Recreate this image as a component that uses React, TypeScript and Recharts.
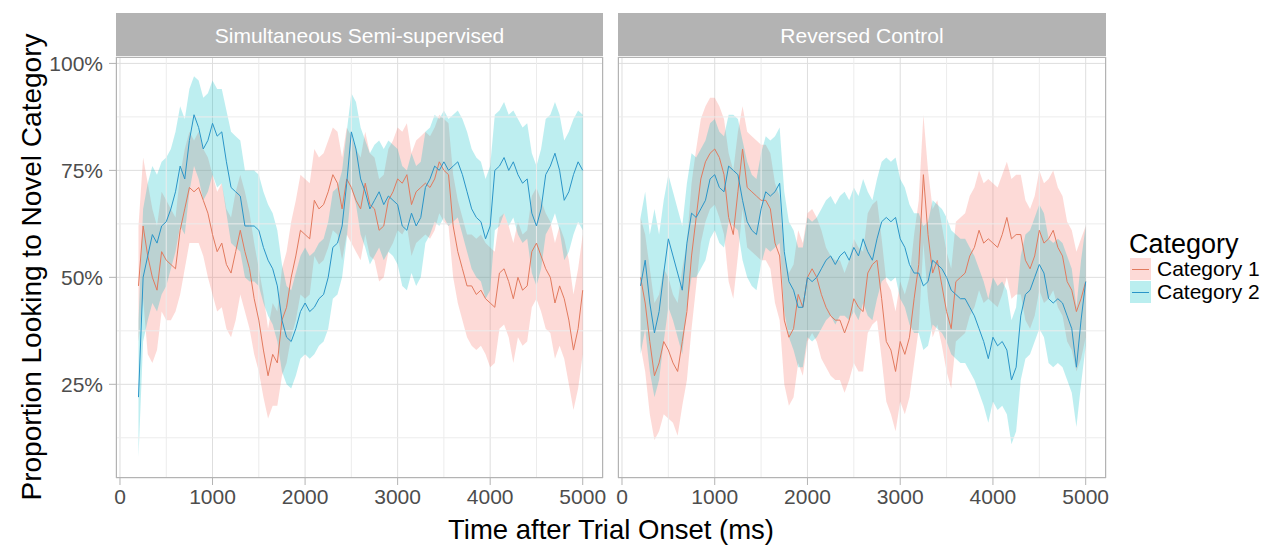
import React from "react";
import {
  ComposedChart,
  Area,
  Line,
  XAxis,
  YAxis,
  CartesianGrid,
  ReferenceLine,
} from "recharts";

const FONT = '"Liberation Sans", Arial, Helvetica, sans-serif';

// time after trial onset (ms), 50 ms bins
const times = [
  200, 250, 300, 350, 400, 450, 500, 550, 600, 650,
  700, 750, 800, 850, 900, 950, 1000, 1050, 1100, 1150,
  1200, 1250, 1300, 1350, 1400, 1450, 1500, 1550, 1600, 1650,
  1700, 1750, 1800, 1850, 1900, 1950, 2000, 2050, 2100, 2150,
  2200, 2250, 2300, 2350, 2400, 2450, 2500, 2550, 2600, 2650,
  2700, 2750, 2800, 2850, 2900, 2950, 3000, 3050, 3100, 3150,
  3200, 3250, 3300, 3350, 3400, 3450, 3500, 3550, 3600, 3650,
  3700, 3750, 3800, 3850, 3900, 3950, 4000, 4050, 4100, 4150,
  4200, 4250, 4300, 4350, 4400, 4450, 4500, 4550, 4600, 4650,
  4700, 4750, 4800, 4850, 4900, 4950, 5000,
];

// Simultaneous Semi-supervised (percent)
const semiCat1 = [
  48, 62, 55, 50, 47, 56, 54, 53, 52, 61,
  66, 71, 70, 71, 68, 65, 60, 56, 58, 53,
  51, 56, 61, 56, 52, 45, 40, 33, 27, 32,
  30, 40, 43, 50, 55, 61, 60, 59, 68, 66,
  67, 70, 74, 72, 66, 73, 71, 68, 66, 72,
  67, 66, 61, 62, 68, 70, 73, 72, 74, 67,
  70, 71, 72, 71, 73, 77, 75, 74, 62, 56,
  52, 48, 48, 46, 47, 45, 44, 43, 51, 52,
  49, 45, 50, 47, 48, 56, 58, 55, 52, 50,
  44, 48, 45, 40, 33, 38, 47,
];
const semiCat1Lo = [
  35, 45, 32, 30, 33, 42, 40, 40, 42, 46,
  52, 58, 58, 58, 55, 50, 46, 42, 43, 38,
  36, 40, 46, 42, 38, 32, 28, 22, 17, 20,
  20, 27, 30, 36, 40, 46, 45, 46, 55, 53,
  54, 57, 61, 60, 54, 60, 58, 56, 54, 60,
  55, 54, 49, 50, 56, 58, 61, 60, 62, 55,
  58, 59, 60, 59, 61, 65, 63, 62, 50, 44,
  40, 36, 34, 33, 34, 32, 29, 30, 38, 39,
  36, 30, 36, 34, 35, 43, 45, 42, 38, 37,
  31, 34, 31, 25, 19, 24, 32,
];
const semiCat1Hi = [
  62, 78, 72, 66, 62, 70, 68, 66, 64, 74,
  80, 84, 82, 84, 80, 78, 74, 70, 72, 66,
  64, 70, 74, 70, 65, 58, 52, 46, 38, 44,
  42, 52, 56, 63, 68, 74, 73, 72, 80, 78,
  79, 82, 85, 84, 78, 85, 83, 80, 78, 84,
  79, 78, 73, 74, 80, 82, 85, 84, 86, 79,
  82, 83, 84, 83, 85, 88, 87, 86, 74, 68,
  64, 60, 60, 59, 60, 58, 57, 56, 64, 65,
  62, 58, 63, 60, 61, 69, 71, 68, 65, 63,
  58, 62, 59, 54, 46, 52, 60,
];
const semiCat2 = [
  22, 50, 55, 60, 58, 62, 63, 66, 70, 76,
  73, 82, 88, 85, 80, 82, 86, 83, 84, 77,
  71, 70, 69, 62, 62, 62, 61, 57, 54, 52,
  48, 40, 36, 35, 38, 42, 44, 42, 43, 45,
  46, 50, 57, 58, 62, 72, 84, 80, 73, 70,
  66, 68, 70, 67, 69, 68, 67, 62, 61, 65,
  62, 64, 71, 73, 76, 75, 77, 75, 76, 77,
  74, 70, 66, 64, 63, 59, 62, 75, 76, 78,
  75, 77, 74, 72, 73, 65, 62, 66, 74, 76,
  79, 75, 68, 70, 74, 77, 75,
];
const semiCat2Lo = [
  8, 35, 40, 44, 42, 46, 48, 52, 56, 62,
  60, 70, 76, 73, 68, 70, 74, 71, 72, 65,
  58, 57, 56, 50, 49, 49, 48, 44, 41, 39,
  35, 28, 25, 24, 27, 31, 32, 31, 32, 34,
  35, 38, 45, 46, 50, 59, 71, 67, 60, 57,
  53, 55, 57, 54, 56, 55, 53, 48, 47, 51,
  48, 50, 58, 60, 63, 62, 64, 62, 63, 64,
  60, 56, 52, 50, 49, 45, 47, 61, 62, 65,
  62, 64, 60, 58, 59, 51, 48, 52, 60, 62,
  65, 61, 54, 56, 60, 63, 61,
];
const semiCat2Hi = [
  40, 66, 72, 76, 74, 77, 78, 80, 84, 90,
  87, 94, 97, 96, 92, 93, 96, 94, 94, 89,
  84, 83, 82, 75, 75, 75, 74, 70, 67, 65,
  61, 53, 48, 47, 51, 55, 57, 55, 56, 58,
  59, 63, 70, 71, 75, 84, 93, 91, 85, 82,
  79, 81, 82, 80, 82, 81, 80, 76, 75, 79,
  76, 77, 84, 85, 88, 87, 89, 87, 88, 89,
  87, 84, 80, 78, 77, 73, 76, 88, 89, 91,
  88, 89, 87, 85, 86, 79, 76, 80, 87, 88,
  91, 88, 82, 84, 87, 89, 88,
];

// Reversed Control (percent)
const revCat1 = [
  50, 44, 35, 27, 30, 35, 33, 30, 28, 35,
  42, 55, 64, 73, 77, 79, 80, 78, 74, 64,
  60, 70, 80, 71, 70, 69, 68, 68, 66, 58,
  55, 40, 36, 38, 46, 43, 50, 52, 50, 46,
  43, 41, 40, 40, 37, 40, 45, 43, 42, 51,
  53, 54, 45, 35, 33, 28, 35, 32, 36, 45,
  53, 74, 60, 51, 54, 48, 42, 38, 49, 50,
  51, 55, 57, 61, 58, 59, 58, 57, 60, 64,
  59, 60, 60, 54, 52, 55, 61, 58, 59, 61,
  57, 55, 49, 47, 42, 45, 49,
];
const revCat1Lo = [
  34, 28, 18, 12, 14, 18, 17, 16, 13, 20,
  26, 38, 48, 58, 63, 66, 67, 64, 60, 49,
  45, 55, 66, 57, 56, 55, 54, 54, 52, 44,
  40, 25, 20, 22, 30, 27, 35, 37, 35, 31,
  29, 27, 26, 26, 23, 26, 30, 28, 28, 37,
  39, 40, 31, 21, 18, 14, 21, 18, 22, 30,
  38, 58, 45, 36, 39, 34, 28, 24, 35, 36,
  37, 41, 43, 47, 44, 45, 44, 43, 46, 50,
  45, 46, 46, 40, 38, 41, 47, 44, 45, 47,
  43, 41, 35, 33, 28, 31, 36,
];
const revCat1Hi = [
  64, 60, 52, 44, 46, 52, 50, 46, 44, 52,
  58, 72, 80, 87, 90, 92, 92, 90, 87, 79,
  75, 84, 90, 84, 83, 82, 81, 81, 79, 72,
  69, 55, 51, 53, 61, 58, 65, 66, 64, 61,
  57, 55, 54, 54, 51, 54, 59, 57, 56, 65,
  67, 68, 59, 49, 47, 42, 49, 46, 50, 60,
  68, 88, 75, 66, 68, 62, 56, 52, 63, 64,
  65, 69, 71, 75, 72, 73, 72, 71, 74, 77,
  73, 74, 74, 68, 66, 69, 75, 72, 73, 75,
  71, 69, 63, 61, 56, 59, 62,
];
const revCat2 = [
  48, 54, 44, 37, 42, 51, 59, 55, 51, 47,
  58, 65, 64, 66, 68, 73, 74, 71, 70, 76,
  75, 74, 68, 63, 61, 60, 66, 70, 69, 70,
  72, 56, 49, 47, 43, 43, 50, 49, 50, 52,
  54, 55, 53, 55, 56, 54, 57, 55, 59, 56,
  54, 59, 63, 64, 63, 64, 59, 57, 53, 51,
  51, 48, 49, 54, 53, 52, 50, 47, 46, 45,
  45, 43, 41, 38, 35, 31, 36, 34, 35, 33,
  26, 29, 41, 46, 47, 50, 53, 51, 45, 44,
  45, 44, 41, 38, 29, 40, 49,
];
const revCat2Lo = [
  32, 38, 28, 22, 26, 35, 43, 40, 36, 32,
  43, 50, 50, 52, 54, 59, 61, 58, 57, 63,
  62, 61, 54, 50, 48, 47, 53, 57, 56, 57,
  58, 42, 36, 33, 29, 29, 36, 35, 36, 38,
  40, 41, 39, 41, 41, 40, 42, 40, 44, 41,
  40, 45, 49, 50, 49, 50, 45, 43, 39, 37,
  37, 33, 34, 39, 38, 37, 35, 32, 31, 30,
  30, 28, 26, 23, 20, 16, 21, 19, 20, 18,
  11, 14, 26, 31, 32, 35, 38, 36, 30, 29,
  30, 29, 26, 23, 15, 25, 34,
];
const revCat2Hi = [
  64, 70, 60, 66, 60, 68, 74, 70, 66, 62,
  72, 79, 78, 80, 82, 86, 87, 84, 83, 88,
  88, 87, 82, 77, 74, 73, 79, 83, 82, 83,
  85, 70, 63, 61, 57, 57, 64, 63, 64, 66,
  68, 69, 67, 69, 70, 68, 71, 69, 73, 70,
  68, 73, 77, 78, 77, 78, 73, 71, 67, 65,
  65, 62, 63, 68, 67, 66, 64, 61, 60, 59,
  59, 57, 55, 52, 49, 45, 50, 48, 49, 47,
  40, 43, 55, 60, 61, 64, 67, 65, 59, 58,
  59, 58, 55, 52, 43, 54, 62,
];

const xTicks = [0, 1000, 2000, 3000, 4000, 5000];
const xMinor = [500, 1500, 2500, 3500, 4500];
const yTicks = [25, 50, 75, 100];
const yMinor = [12.5, 37.5, 62.5, 87.5];
const categories = ["Category 1", "Category 2"];
const facets = ["Simultaneous Semi-supervised", "Reversed Control"];

const FILL1 = "#F8766D";
const FILL2 = "#00BFC4";
const LINE1 = "#E27A5E";
const LINE2 = "#2A95C8";

const buildRows = (m1: number[], lo1: number[], hi1: number[], m2: number[], lo2: number[], hi2: number[]) =>
  times.map((t, i) => ({
    t,
    m1: m1[i],
    r1: [lo1[i], hi1[i]],
    m2: m2[i],
    r2: [lo2[i], hi2[i]],
  }));

const semiRows = buildRows(semiCat1, semiCat1Lo, semiCat1Hi, semiCat2, semiCat2Lo, semiCat2Hi);
const revRows = buildRows(revCat1, revCat1Lo, revCat1Hi, revCat2, revCat2Lo, revCat2Hi);

const PANEL_TOP = 57;
const PANEL_H = 421;
const AXIS_W = 76;
const PAD = 24; // room so edge tick labels are not clipped by the svg

const Panel = ({ title, rows, left, width, showY }: any) => {
  const padLeft = showY ? 0 : PAD;
  const chartLeft = left - (showY ? AXIS_W : PAD);
  const chartWidth = width + (showY ? AXIS_W : PAD) + PAD;
  return (
    <>
      <div
        style={{
          position: "absolute",
          left,
          top: 13,
          width,
          height: 43,
          background: "#B3B3B3",
          color: "#ffffff",
          fontSize: 21,
          display: "flex",
          alignItems: "center",
          justifyContent: "center",
          paddingTop: 2,
          boxSizing: "border-box",
        }}
      >
        {title}
      </div>
      <div style={{ position: "absolute", left: chartLeft, top: PANEL_TOP - PAD }}>
        <ComposedChart
          width={chartWidth}
          height={PANEL_H + PAD + 34}
          data={rows}
          margin={{ top: PAD, right: PAD, bottom: 0, left: padLeft }}
        >
          <CartesianGrid stroke="#DEDEDE" strokeWidth={1} />
          {xMinor.map((v) => (
            <ReferenceLine key={"mx" + v} x={v} stroke="#ECECEC" strokeWidth={1} />
          ))}
          {yMinor.map((v) => (
            <ReferenceLine key={"my" + v} y={v} stroke="#ECECEC" strokeWidth={1} />
          ))}
          <XAxis
            dataKey="t"
            type="number"
            domain={[-43, 5219]}
            ticks={xTicks}
            allowDataOverflow
            interval={0}
            axisLine={false}
            tickLine={{ stroke: "#B3B3B3" }}
            tickSize={7}
            tickMargin={4}
            height={34}
            tick={{ fill: "#4D4D4D", fontSize: 21 }}
          />
          <YAxis
            type="number"
            domain={[3.1, 101.5]}
            ticks={yTicks}
            allowDataOverflow
            interval={0}
            hide={!showY}
            width={AXIS_W}
            axisLine={false}
            tickLine={{ stroke: "#B3B3B3" }}
            tickSize={7}
            tickMargin={6}
            tick={{ fill: "#4D4D4D", fontSize: 21 }}
            tickFormatter={(v: number) => `${v}%`}
          />
          <Area
            dataKey="r1"
            type="linear"
            stroke="none"
            fill={FILL1}
            fillOpacity={0.27}
            isAnimationActive={false}
            activeDot={false}
          />
          <Area
            dataKey="r2"
            type="linear"
            stroke="none"
            fill={FILL2}
            fillOpacity={0.26}
            isAnimationActive={false}
            activeDot={false}
          />
          <Line
            dataKey="m1"
            type="linear"
            stroke={LINE1}
            strokeWidth={1}
            dot={false}
            isAnimationActive={false}
          />
          <Line
            dataKey="m2"
            type="linear"
            stroke={LINE2}
            strokeWidth={1}
            dot={false}
            isAnimationActive={false}
          />
        </ComposedChart>
      </div>
      <div
        style={{
          position: "absolute",
          left,
          top: PANEL_TOP,
          width,
          height: PANEL_H,
          border: "1px solid #B3B3B3",
          boxSizing: "border-box",
          pointerEvents: "none",
        }}
      />
    </>
  );
};

const LegendKey = ({ fill, line, top, label }: any) => (
  <>
    <div
      style={{
        position: "absolute",
        left: 1130,
        top,
        width: 21,
        height: 22,
        background: fill,
        opacity: 0.27,
      }}
    />
    <div
      style={{
        position: "absolute",
        left: 1132,
        top: top + 11,
        width: 17,
        height: 1,
        background: line,
      }}
    />
    <div
      style={{
        position: "absolute",
        left: 1157,
        top: top + 11,
        transform: "translateY(-50%)",
        fontSize: 21,
        color: "#000",
        whiteSpace: "nowrap",
      }}
    >
      {label}
    </div>
  </>
);

export default function App() {
  return (
    <div
      style={{
        position: "absolute",
        left: 0,
        top: 0,
        width: 1268,
        height: 546,
        background: "#ffffff",
        fontFamily: FONT,
        overflow: "hidden",
      }}
    >
      <Panel title={facets[0]} rows={semiRows} left={116} width={487} showY />
      <Panel title={facets[1]} rows={revRows} left={618} width={488} showY={false} />

      <div
        style={{
          position: "absolute",
          left: 32,
          top: 267,
          transform: "translate(-50%, -50%) rotate(-90deg)",
          fontSize: 28,
          whiteSpace: "nowrap",
          color: "#000",
        }}
      >
        Proportion Looking to Novel Category
      </div>
      <div
        style={{
          position: "absolute",
          left: 611,
          top: 530,
          transform: "translate(-50%, -50%)",
          fontSize: 27.5,
          whiteSpace: "nowrap",
          color: "#000",
        }}
      >
        Time after Trial Onset (ms)
      </div>

      <div
        style={{
          position: "absolute",
          left: 1129,
          top: 231,
          fontSize: 27,
          lineHeight: "27px",
          color: "#000",
        }}
      >
        Category
      </div>
      <LegendKey fill={FILL1} line={LINE1} top={258} label={categories[0]} />
      <LegendKey fill={FILL2} line={LINE2} top={281} label={categories[1]} />
    </div>
  );
}
